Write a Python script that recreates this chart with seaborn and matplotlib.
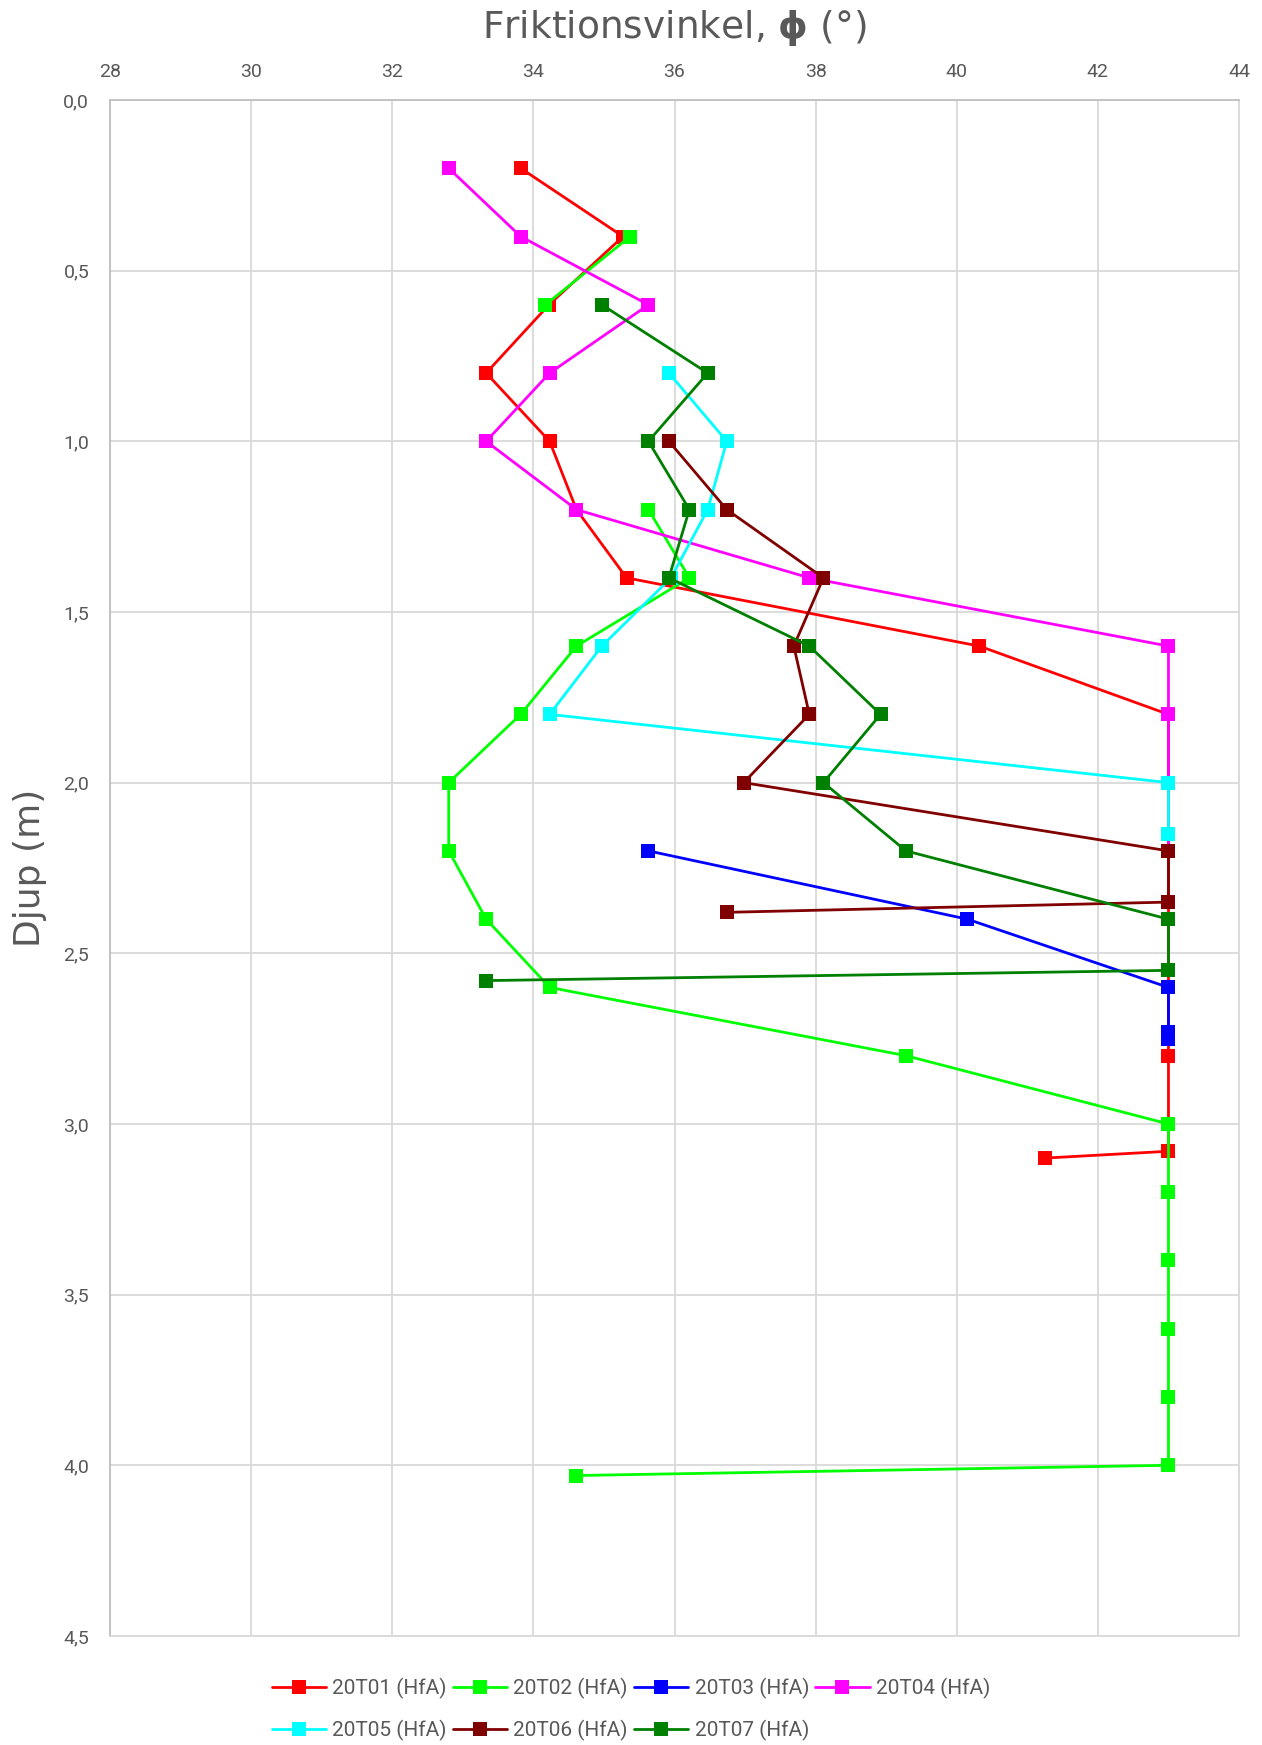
import numpy as np
import pandas as pd
import seaborn as sns
import matplotlib.pyplot as plt
from matplotlib.lines import Line2D
from matplotlib.ticker import FuncFormatter

## Serier och färger
serier = ['20T01 (HfA)', '20T02 (HfA)', '20T03 (HfA)', '20T04 (HfA)',
          '20T05 (HfA)', '20T06 (HfA)', '20T07 (HfA)']
farger = ['#FF0000', '#00FF00', '#0000FF', '#FF00FF', '#00FFFF', '#800000', '#008000']

## Friktionsvinkel (grader) och djup (m) per sondering, nan = lucka i linjen
phi_20T01 = [33.82, 35.27, 34.22, 33.33, 34.23, 34.61, 35.32, 40.32, 43.0, 43.0, 43.0, 41.25]
djup_20T01 = [0.2, 0.4, 0.6, 0.8, 1.0, 1.2, 1.4, 1.6, 1.8, 2.8, 3.08, 3.1]

phi_20T02 = [35.37, 34.17, np.nan, 35.63, 36.21, 34.61, 33.82, 32.80, 32.80, 33.33, 34.23,
             39.28, 43.0, 43.0, 43.0, 43.0, 43.0, 43.0, 34.61]
djup_20T02 = [0.4, 0.6, np.nan, 1.2, 1.4, 1.6, 1.8, 2.0, 2.2, 2.4, 2.6,
              2.8, 3.0, 3.2, 3.4, 3.6, 3.8, 4.0, 4.03]

phi_20T03 = [35.63, 40.15, 43.0, 43.0, 43.0]
djup_20T03 = [2.2, 2.4, 2.6, 2.73, 2.75]

phi_20T04 = [32.80, 33.82, 35.63, 34.23, 33.33, 34.61, 37.91, 43.0, 43.0, 43.0, 43.0]
djup_20T04 = [0.2, 0.4, 0.6, 0.8, 1.0, 1.2, 1.4, 1.6, 1.8, 2.0, 2.2]

phi_20T05 = [35.92, 36.74, 36.47, 35.95, 34.97, 34.23, 43.0, 43.0]
djup_20T05 = [0.8, 1.0, 1.2, 1.4, 1.6, 1.8, 2.0, 2.15]

phi_20T06 = [35.92, 36.74, 38.11, 37.69, 37.91, 36.98, 43.0, 43.0, 36.74]
djup_20T06 = [1.0, 1.2, 1.4, 1.6, 1.8, 2.0, 2.2, 2.35, 2.38]

phi_20T07 = [34.97, 36.47, 35.63, 36.21, 35.92, 37.91, 38.92, 38.11, 39.28, 43.0, 43.0, 33.33]
djup_20T07 = [0.6, 0.8, 1.0, 1.2, 1.4, 1.6, 1.8, 2.0, 2.2, 2.4, 2.55, 2.58]

x_ticks = [28, 30, 32, 34, 36, 38, 40, 42, 44]
y_ticks = [0.0, 0.5, 1.0, 1.5, 2.0, 2.5, 3.0, 3.5, 4.0, 4.5]

phi_lista = [phi_20T01, phi_20T02, phi_20T03, phi_20T04, phi_20T05, phi_20T06, phi_20T07]
djup_lista = [djup_20T01, djup_20T02, djup_20T03, djup_20T04, djup_20T05, djup_20T06, djup_20T07]

## Bygger lång tabell, varje lucka ger nytt segment
delar = []
for namn, phi, djup in zip(serier, phi_lista, djup_lista):
    d = pd.DataFrame({'phi': phi, 'djup': djup})
    d['seg'] = namn + '_' + d['phi'].isna().cumsum().astype(str)
    d['serie'] = namn
    delar.append(d.dropna())
df = pd.concat(delar, ignore_index=True)

sns.set_style('white')
plt.rcParams['font.family'] = ['Liberation Sans Narrow', 'Roboto', 'DejaVu Sans']
grey = '#595959'

fig = plt.figure(figsize=(12.62, 17.45), dpi=100)
ax = fig.add_axes([0.0872, 0.0625, 0.8946, 0.8802])

sns.lineplot(data=df, x='phi', y='djup', hue='serie', units='seg', estimator=None,
             sort=False, palette=dict(zip(serier, farger)), hue_order=serier,
             marker='s', markersize=9.5, markeredgewidth=0, linewidth=2.0,
             legend=False, ax=ax)

ax.set_xlim(28, 44)
ax.set_ylim(4.5, 0)
ax.set_xticks(x_ticks)
ax.set_yticks(y_ticks)
ax.yaxis.set_major_formatter(FuncFormatter(lambda v, p: f'{v:.1f}'.replace('.', ',')))
ax.xaxis.tick_top()
ax.xaxis.set_label_position('top')
ax.tick_params(length=0, labelsize=14, labelcolor=grey)
ax.tick_params(axis='x', pad=14)
ax.tick_params(axis='y', pad=15)
ax.grid(True, color='#d9d9d9', linewidth=1.3)
ax.set_axisbelow(True)
for s in ['left', 'top']:
    ax.spines[s].set_color('#bfbfbf')
    ax.spines[s].set_linewidth(1.3)
for s in ['right', 'bottom']:
    ax.spines[s].set_color('#d9d9d9')
    ax.spines[s].set_linewidth(1.3)

ax.set_xlabel(r'Friktionsvinkel, $\mathbf{\phi}$ (°)', fontsize=27, color=grey,
              labelpad=18, family='DejaVu Sans')
ax.set_ylabel('Djup (m)', fontsize=26, color=grey, labelpad=12, family='DejaVu Sans')

## Legend i Excel-ordning (radvis)
handtag = [Line2D([], [], color=c, marker='s', markersize=9.5, markeredgewidth=0, linewidth=2.0)
           for c in farger]
ordning = [0, 4, 1, 5, 2, 6, 3]
fig.legend([handtag[i] for i in ordning], [serier[i] for i in ordning],
           loc='center', bbox_to_anchor=(0.5, 1 - 1709 / 1745), ncol=4, frameon=False,
           fontsize=15, handlelength=2.6, handletextpad=0.3, columnspacing=0.3,
           labelspacing=1.0, labelcolor=grey)

plt.savefig('out.png')
